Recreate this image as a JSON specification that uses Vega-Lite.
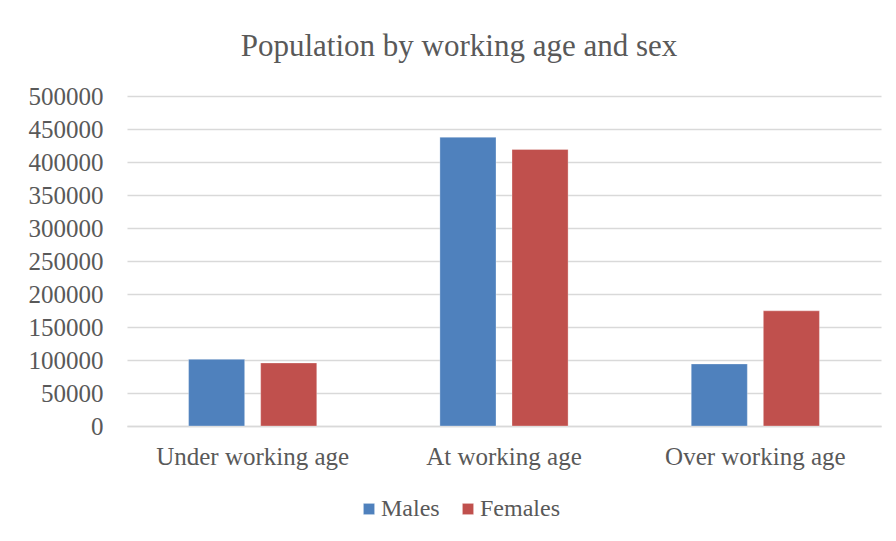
{
  "$schema": "https://vega.github.io/schema/vega-lite/v6.json",
  "autosize": {"type": "none"},
  "padding": {"left": 127, "top": 96, "right": 15, "bottom": 115},
  "width": 754,
  "height": 330,
  "background": "white",
  "title": {
    "text": "Population by working age and sex",
    "font": "Liberation Serif",
    "fontSize": 31,
    "fontWeight": "normal",
    "color": "#595959",
    "anchor": "middle",
    "frame": "group",
    "dx": -45,
    "baseline": "alphabetic",
    "offset": -3
  },
  "data": {
    "values": [
      {"group": "Under working age", "sex": "Males", "population": 101000},
      {"group": "Under working age", "sex": "Females", "population": 95500},
      {"group": "At working age", "sex": "Males", "population": 437500},
      {"group": "At working age", "sex": "Females", "population": 419000},
      {"group": "Over working age", "sex": "Males", "population": 94000},
      {"group": "Over working age", "sex": "Females", "population": 174500}
    ]
  },
  "mark": {"type": "bar"},
  "encoding": {
    "x": {
      "field": "group",
      "type": "nominal",
      "sort": ["Under working age", "At working age", "Over working age"],
      "scale": {"paddingInner": 0.49, "paddingOuter": 0.245},
      "axis": {
        "title": null,
        "labelAngle": 0,
        "labelFont": "Liberation Serif",
        "labelFontSize": 25,
        "labelColor": "#595959",
        "labelPadding": 18,
        "labelLimit": 0,
        "ticks": false,
        "domain": true,
        "domainColor": "#d9d9d9",
        "domainWidth": 1.5
      }
    },
    "xOffset": {
      "field": "sex",
      "type": "nominal",
      "sort": ["Males", "Females"],
      "scale": {"paddingInner": 0.222, "paddingOuter": 0}
    },
    "y": {
      "field": "population",
      "type": "quantitative",
      "scale": {"domain": [0, 500000], "nice": false},
      "axis": {
        "title": null,
        "values": [0, 50000, 100000, 150000, 200000, 250000, 300000, 350000, 400000, 450000, 500000],
        "format": "d",
        "labelFont": "Liberation Serif",
        "labelFontSize": 25,
        "labelColor": "#595959",
        "labelPadding": 24,
        "ticks": false,
        "domain": false,
        "grid": true,
        "gridColor": "#d9d9d9",
        "gridWidth": 1.5
      }
    },
    "color": {
      "field": "sex",
      "type": "nominal",
      "sort": ["Males", "Females"],
      "scale": {"domain": ["Males", "Females"], "range": ["#4F81BD", "#C0504D"]},
      "legend": {
        "title": null,
        "orient": "none",
        "direction": "horizontal",
        "legendX": 230,
        "legendY": 401,
        "symbolType": "square",
        "symbolSize": 125,
        "symbolStrokeWidth": 0,
        "labelFont": "Liberation Serif",
        "labelFontSize": 24,
        "labelColor": "#595959",
        "labelOffset": 0,
        "columnPadding": 16
      }
    }
  },
  "config": {
    "view": {"stroke": null},
    "bar": {"stroke": "white", "strokeWidth": 0.5, "strokeOpacity": 0.6}
  }
}
